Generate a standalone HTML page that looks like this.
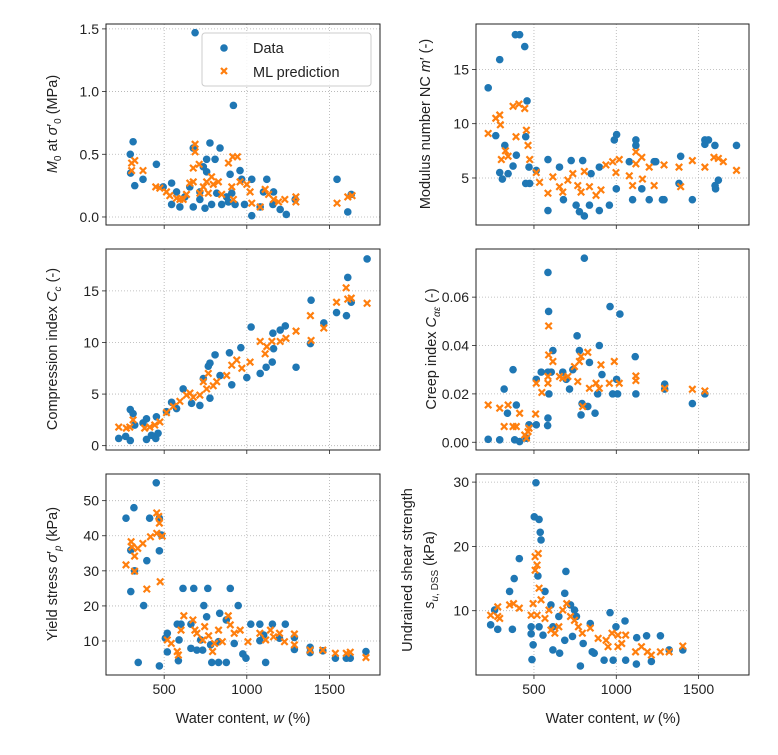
<!DOCTYPE html>
<html><head><meta charset="utf-8"><style>
html,body{margin:0;padding:0;background:#fff;}
svg text{font-family:"Liberation Sans","DejaVu Sans",sans-serif;fill:#222;}
</style></head><body>
<svg id="fig" width="778" height="750" viewBox="0 0 778 750" xmlns="http://www.w3.org/2000/svg"></svg>
<script>
// ---- Data ----
const xTicks=[500,1000,1500];
// Panel 1: M0
const p1BlueX=[687,919,312,295,297,322,372,453,676,777,838,757,808,757,545,494,545,595,655,676,716,747,787,848,899,959,969,1030,929,986,1030,1121,1162,1101,1081,1158,1202,1239,1293,1546,1611,1632,575,625,716,818,878,909,737,889];
const p1BlueY=[1.47,0.89,0.60,0.50,0.35,0.25,0.30,0.42,0.55,0.59,0.55,0.46,0.46,0.36,0.27,0.24,0.10,0.08,0.24,0.08,0.14,0.07,0.10,0.10,0.34,0.37,0.30,0.30,0.10,0.10,0.01,0.30,0.20,0.20,0.08,0.10,0.06,0.02,0.14,0.30,0.04,0.18,0.20,0.16,0.20,0.19,0.16,0.19,0.40,0.12];
const p1OrX=[687,687,303,322,303,372,449,474,514,534,575,595,635,676,712,676,716,737,757,787,828,848,889,915,943,909,919,959,1000,1020,1030,1081,1111,1132,1162,1192,1230,1297,1297,1546,1611,1637,767,797,655,615];
const p1OrY=[0.58,0.52,0.43,0.45,0.37,0.37,0.24,0.23,0.20,0.17,0.15,0.14,0.18,0.39,0.42,0.28,0.19,0.24,0.28,0.32,0.28,0.18,0.43,0.48,0.48,0.24,0.14,0.28,0.26,0.20,0.11,0.08,0.22,0.18,0.14,0.12,0.14,0.16,0.12,0.11,0.16,0.17,0.19,0.26,0.27,0.14];
// Panel 2: m'
const p2BlueX=[222,292,387,413,444,458,450,268,292,308,323,343,373,393,450,474,470,514,585,585,655,679,726,756,776,806,796,847,837,897,897,958,988,1002,1000,1079,1119,1119,1099,1155,1200,1230,1290,1391,1381,1462,1538,1538,1599,1603,1600,1620,1730,1560,1280,1240];
const p2BlueY=[13.3,15.9,18.2,18.2,17.1,12.1,8.8,8.9,5.5,4.9,8.0,5.4,6.1,7.1,4.5,4.5,6.0,5.7,6.7,2.0,6.0,3.0,6.6,2.5,1.9,1.5,6.6,5.4,2.5,6.0,2.0,2.5,8.5,9.0,4.0,6.5,8.5,8.0,3.0,4.0,3.0,6.5,3.0,7.0,4.5,3.0,8.5,8.1,8.0,4.0,4.3,4.8,8.0,8.5,3.0,6.5];
const p2OrX=[222,268,292,296,302,327,343,373,409,444,391,454,464,474,514,534,585,615,655,675,706,736,766,786,806,837,877,907,937,978,998,1018,1079,1099,1119,1119,1155,1159,1200,1230,1290,1381,1391,1462,1538,1593,1620,1730,1650];
const p2OrY=[9.1,10.5,10.8,9.9,6.7,7.5,7.0,11.6,11.8,11.4,8.8,9.4,8.0,6.7,5.5,4.6,3.6,5.1,4.2,3.7,4.8,5.4,4.3,3.7,5.6,4.2,3.4,3.9,6.2,6.5,5.5,6.7,5.2,4.3,7.4,6.3,6.9,4.9,6.0,4.3,6.2,6.0,4.2,6.6,6.0,6.9,6.8,5.7,6.5];
// Panel 3: Cc
const p3BlueX=[1728,1611,1389,1543,1603,1632,1466,1385,1298,1233,1202,1158,1026,1000,1081,1117,1154,1162,964,895,808,777,767,909,838,737,615,716,666,777,545,514,453,393,372,295,312,225,267,295,393,423,449,463,322,575];
const p3BlueY=[18.1,16.3,14.1,12.9,12.6,13.9,11.9,9.9,7.6,11.6,11.2,10.9,11.5,6.6,7.0,7.6,8.1,9.4,9.5,9.0,8.8,8.0,7.7,5.9,6.8,6.5,5.5,3.9,4.1,4.6,4.2,3.3,2.8,2.6,2.2,3.5,3.1,0.7,0.9,0.5,0.6,1.0,0.7,1.2,2.0,3.6];
const p3OrX=[1728,1611,1601,1543,1632,1385,1389,1466,1298,1237,1202,1152,1081,1111,1121,1020,970,939,909,878,818,767,757,716,676,635,595,555,514,474,443,413,382,312,292,271,225,797,737,656];
const p3OrY=[13.8,14.2,15.3,13.9,14.3,12.6,10.2,11.4,11.1,10.4,10.1,10.1,10.1,8.9,9.6,8.1,7.5,8.3,7.8,6.8,6.2,7.0,5.5,4.9,4.7,4.9,4.3,3.8,3.2,2.3,2.0,1.8,1.7,2.5,1.8,1.7,1.8,5.8,6.2,5.1];
// Panel 4: C_alpha_eps
const p4BlueX=[806,585,589,962,1022,762,776,615,837,897,1115,373,319,339,222,292,393,383,413,470,514,514,544,585,605,585,583,591,675,696,716,736,786,792,827,871,887,913,978,1008,1002,1119,1294,1294,1462,1538,454];
const p4BlueY=[0.0761,0.0702,0.0541,0.0561,0.0530,0.0440,0.0379,0.0379,0.0330,0.0400,0.0354,0.0300,0.0220,0.0120,0.0012,0.0010,0.0154,0.0010,0.0003,0.0072,0.0072,0.0260,0.0290,0.0290,0.0290,0.0100,0.0069,0.0200,0.0290,0.0260,0.0220,0.0300,0.0113,0.0160,0.0148,0.0120,0.0200,0.0280,0.0200,0.0200,0.0260,0.0200,0.0240,0.0220,0.0160,0.0200,0.0017];
const p4OrX=[222,292,343,319,373,393,413,444,464,470,454,510,514,548,585,589,589,585,615,675,706,746,776,786,796,827,837,877,897,907,958,988,1018,1119,1119,1294,1462,1538,766,655];
const p4OrY=[0.0154,0.0141,0.0154,0.0065,0.0065,0.0065,0.0120,0.0030,0.0044,0.0058,0.0017,0.0117,0.0244,0.0206,0.0272,0.0361,0.0481,0.0244,0.0334,0.0265,0.0272,0.0313,0.0334,0.0355,0.0148,0.0372,0.0223,0.0244,0.0223,0.0320,0.0244,0.0334,0.0244,0.0274,0.0255,0.0223,0.0219,0.0212,0.0251,0.0272];
// Panel 5: sigma'_p
const p5BlueX=[452,317,269,412,471,483,298,471,395,321,298,376,343,471,614,679,764,900,740,948,836,579,602,662,757,876,1024,1079,1155,1233,519,507,590,662,698,733,781,829,519,586,788,829,876,976,995,1114,1079,1102,1198,1288,1288,1383,1383,1460,1536,1602,1626,1721,721,924];
const p5BlueY=[55.1,48.0,45.0,45.0,45.0,40.2,35.9,35.7,32.9,30.0,24.1,20.1,3.9,2.9,25.0,25.0,25.0,25.0,20.1,20.1,17.9,14.8,14.8,14.8,16.9,16.0,14.8,14.8,14.8,14.8,12.2,10.8,10.3,7.9,7.4,7.4,8.9,9.8,6.9,4.4,3.9,3.9,3.9,6.3,5.1,3.9,10.1,11.7,10.8,11.0,7.6,6.7,8.2,7.2,5.1,5.1,5.1,7.0,10.3,9.3];
const p5OrX=[455,467,471,488,455,417,371,340,300,305,321,321,269,395,476,519,543,579,586,602,619,674,698,733,745,769,793,805,829,852,888,900,924,960,1007,1079,1114,1143,1198,1228,1288,1288,1383,1460,1536,1602,1626,1721,1162,686];
const p5OrY=[46.5,45.5,43.6,39.9,40.7,39.7,37.8,36.4,38.3,36.8,34.2,29.9,31.7,24.8,26.9,10.3,9.3,7.0,6.0,13.1,17.2,16.0,12.2,10.3,14.1,11.5,7.0,9.3,13.1,9.8,17.2,14.6,12.2,13.1,9.8,12.2,10.3,13.1,12.2,9.8,12.0,8.9,7.4,7.4,6.5,6.5,6.8,5.3,11.2,13.1];
// Panel 6: s_u,DSS
const p6BlueX=[512,502,531,538,543,411,380,352,524,567,694,687,369,280,237,261,483,483,495,488,531,555,603,615,656,722,746,758,687,782,799,842,866,926,962,998,981,1053,1057,1124,1122,1184,1213,1268,1321,1404,854,615,651,734];
const p6BlueY=[29.9,24.6,24.2,22.2,21.0,18.1,15.0,13.0,15.4,13.0,16.1,12.7,7.1,7.1,7.8,10.1,7.5,6.4,4.7,2.4,7.5,6.2,10.9,3.9,3.4,10.9,10.1,9.1,5.4,1.4,4.9,8.0,3.4,2.3,9.7,7.5,2.3,8.4,2.3,5.8,1.7,6.1,2.1,6.1,3.9,3.9,3.6,7.5,9.1,6.0];
const p6OrX=[237,280,292,280,352,376,411,483,495,507,526,507,519,531,543,519,567,591,603,627,651,675,699,722,746,770,794,842,890,938,974,1010,1033,1057,1117,1153,1189,1213,1268,1321,1404,950,1010];
const p6OrY=[9.3,9.1,8.8,10.6,10.9,11.1,10.4,9.3,11.1,18.4,18.9,16.3,17.1,13.5,11.7,9.3,8.8,10.1,7.0,6.5,7.5,10.1,11.1,9.1,8.5,7.5,6.5,7.3,5.7,5.4,6.5,6.2,4.9,6.2,3.6,4.4,3.6,3.1,3.6,3.6,4.5,4.4,4.4];
const p1Ticks=[0,0.5,1.0,1.5], p1TickLabels=["0.0","0.5","1.0","1.5"];
const p2Ticks=[5,10,15], p2TickLabels=["5","10","15"];
const p3Ticks=[0,5,10,15], p3TickLabels=["0","5","10","15"];
const p4Ticks=[0,0.02,0.04,0.06], p4TickLabels=["0.00","0.02","0.04","0.06"];
const p5Ticks=[10,20,30,40,50], p5TickLabels=["10","20","30","40","50"];
const p6Ticks=[10,20,30], p6TickLabels=["10","20","30"];
const xTickLabels=["500","1000","1500"];

const NS="http://www.w3.org/2000/svg";
const svg=document.getElementById('fig');
function mk(tag,attrs,parent){const e=document.createElementNS(NS,tag);for(const k in attrs)e.setAttribute(k,attrs[k]);(parent||svg).appendChild(e);return e;}
const XMIN=148,XMAX=1806;
function panel(cfg){
  const g=mk('g',{});
  
  
  const L=cfg.l,T=cfg.t,W=cfg.w,H=cfg.h;
  const sx=v=>L+(v-XMIN)/(XMAX-XMIN)*W;
  const sy=v=>T+H-(v-cfg.ymin)/(cfg.ymax-cfg.ymin)*H;
  // grid
  xTicks.forEach((t,i)=>{
    const ln=mk('line',{x1:sx(t),x2:sx(t),y1:T,y2:T+H,stroke:'#b0b0b0','stroke-width':0.8,'stroke-dasharray':'1,2'},g);
    
    
    mk('line',{x1:sx(t),x2:sx(t),y1:T+H,y2:T+H+4,stroke:'#222','stroke-width':0.8},g);
    if(cfg.xlabels){
      const tx=mk('text',{x:sx(t),y:T+H+19,'text-anchor':'middle','font-size':14},g);
      tx.textContent=xTickLabels[i];
      
      
    }
  });
  cfg.yt.forEach((t,i)=>{
    const ln=mk('line',{x1:L,x2:L+W,y1:sy(t),y2:sy(t),stroke:'#b0b0b0','stroke-width':0.8,'stroke-dasharray':'1,2'},g);
    
    
    mk('line',{x1:L-4,x2:L,y1:sy(t),y2:sy(t),stroke:'#222','stroke-width':0.8},g);
    const tx=mk('text',{x:L-7,y:sy(t)+5,'text-anchor':'end','font-size':14},g);
    tx.textContent=cfg.ytl[i];
    
    
  });
  const clip=mk('clipPath',{id:'c'+cfg.name},g);
  mk('rect',{x:L,y:T,width:W,height:H},clip);
  const pts=mk('g',{'clip-path':'url(#c'+cfg.name+')'},g);
  cfg.bx.forEach((x,i)=>{
    const c=mk('circle',{cx:sx(x),cy:sy(cfg.by[i]),r:3.8,fill:'#1f77b4'},pts);
    
    
  });
  cfg.ox.forEach((x,i)=>{
    const cx=sx(x),cy=sy(cfg.oy[i]),s=3.2;
    const p=mk('path',{d:`M${cx-s},${cy-s}L${cx+s},${cy+s}M${cx-s},${cy+s}L${cx+s},${cy-s}`,stroke:'#ff7f0e','stroke-width':2.2,fill:'none'},pts);
    
    
  });
  const fr=mk('rect',{x:L,y:T,width:W,height:H,fill:'none',stroke:'#222','stroke-width':1},g);
  
  
  return g;
}
function ylabel(x,y,html,name){
  const t=mk('text',{x:0,y:0,transform:`translate(${x},${y}) rotate(-90)`,'text-anchor':'middle','font-size':14.5});
  t.innerHTML=html;
  
  
}
panel({name:'m0-panel',l:106,t:24,w:274,h:201,ymin:-0.064,ymax:1.539,yt:p1Ticks,ytl:p1TickLabels,bx:p1BlueX,by:p1BlueY,ox:p1OrX,oy:p1OrY});
panel({name:'modulus-panel',l:476,t:24,w:273,h:201,ymin:0.67,ymax:19.18,yt:p2Ticks,ytl:p2TickLabels,bx:p2BlueX,by:p2BlueY,ox:p2OrX,oy:p2OrY});
panel({name:'compression-panel',l:106,t:249,w:274,h:201,ymin:-0.42,ymax:19.06,yt:p3Ticks,ytl:p3TickLabels,bx:p3BlueX,by:p3BlueY,ox:p3OrX,oy:p3OrY});
panel({name:'creep-panel',l:476,t:249,w:273,h:201,ymin:-0.0032,ymax:0.0799,yt:p4Ticks,ytl:p4TickLabels,bx:p4BlueX,by:p4BlueY,ox:p4OrX,oy:p4OrY});
panel({name:'yield-panel',l:106,t:474,w:274,h:201,ymin:0.31,ymax:57.6,yt:p5Ticks,ytl:p5TickLabels,bx:p5BlueX,by:p5BlueY,ox:p5OrX,oy:p5OrY,xlabels:true});
panel({name:'shear-panel',l:476,t:474,w:273,h:201,ymin:0,ymax:31.26,yt:p6Ticks,ytl:p6TickLabels,bx:p6BlueX,by:p6BlueY,ox:p6OrX,oy:p6OrY,xlabels:true});

ylabel(57,124,'<tspan font-style="italic">M</tspan><tspan font-size="10" dy="4">0</tspan><tspan dy="-4"> at </tspan><tspan font-style="italic">σ</tspan><tspan>′</tspan><tspan font-size="10" dy="4">0</tspan><tspan dy="-4"> (MPa)</tspan>','y-axis-title-m0');
ylabel(430,124,'Modulus number NC <tspan font-style="italic">m</tspan>′ (-)','y-axis-title-modulus');
ylabel(57,349,'Compression index <tspan font-style="italic">C</tspan><tspan font-size="10" dy="4" font-style="italic">c</tspan><tspan dy="-4"> (-)</tspan>','y-axis-title-compression');
ylabel(436,349,'Creep index <tspan font-style="italic">C</tspan><tspan font-size="10" dy="4" font-style="italic">αε</tspan><tspan dy="-4"> (-)</tspan>','y-axis-title-creep');
ylabel(57,574,'Yield stress <tspan font-style="italic">σ</tspan>′<tspan font-size="10" dy="4" font-style="italic">p</tspan><tspan dy="-4"> (kPa)</tspan>','y-axis-title-yield');
ylabel(412,570,'Undrained shear strength','y-axis-title-shear-line1');
ylabel(434,570,'<tspan font-style="italic">s</tspan><tspan font-size="10" dy="4"><tspan font-style="italic">u</tspan>, DSS</tspan><tspan dy="-4"> (kPa)</tspan>','y-axis-title-shear-line2');

[[243,'xl-left'],[613,'xl-right']].forEach(a=>{
  const t=mk('text',{x:a[0],y:723,'text-anchor':'middle','font-size':14.5});
  t.innerHTML='Water content, <tspan font-style="italic">w</tspan> (%)';
  
  
});

// legend
const lg=mk('g',{});


mk('rect',{x:202,y:33,width:169,height:53,rx:3,fill:'#fff','fill-opacity':0.85,stroke:'#cccccc','stroke-width':1},lg);
const lc=mk('circle',{cx:224,cy:48,r:3.8,fill:'#1f77b4'},lg);


const lp=mk('path',{d:'M221,68L227,74M221,74L227,68',stroke:'#ff7f0e','stroke-width':2.2},lg);


const t1=mk('text',{x:253,y:53,'font-size':14.5},lg);t1.textContent='Data';


const t2=mk('text',{x:253,y:77,'font-size':14.5},lg);t2.textContent='ML prediction';


</script>
</body></html>
